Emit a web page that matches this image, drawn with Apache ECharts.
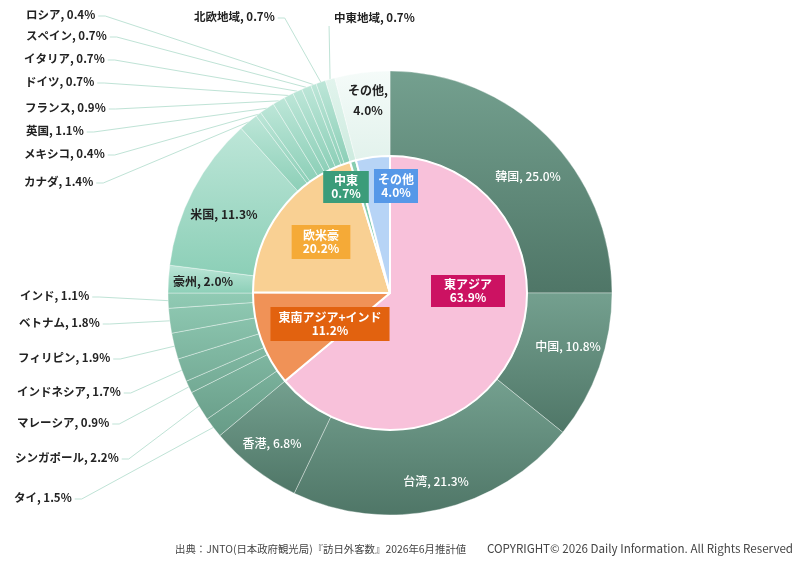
<!DOCTYPE html>
<html><head><meta charset="utf-8">
<script src="https://cdn.jsdelivr.net/npm/echarts@6/dist/echarts.min.js"></script>
<style>html,body{margin:0;padding:0;background:#fff}#c{width:800px;height:563px}</style>
</head><body><div id="c"></div>
<script>
// ---- data ----
const regionNames = ['東アジア', '東南アジア+インド', '欧米豪', '中東', 'その他'];
const regionValues = [63.9, 11.2, 20.2, 0.7, 4.0];

const countryNames = ['韓国', '中国', '台湾', '香港',
  'タイ', 'シンガポール', 'マレーシア', 'インドネシア', 'フィリピン', 'ベトナム', 'インド',
  '豪州', '米国', 'カナダ', 'メキシコ', '英国', 'フランス', 'ドイツ', 'イタリア', 'スペイン', 'ロシア', '北欧地域',
  '中東地域', 'その他'];
const countryValues = [25.0, 10.8, 21.3, 6.8,
  1.5, 2.2, 0.9, 1.7, 1.9, 1.8, 1.1,
  2.0, 11.3, 1.4, 0.4, 1.1, 0.9, 0.7, 0.7, 0.7, 0.4, 0.7,
  0.7, 4.0];
const countryGroup = [0, 0, 0, 0, 1, 1, 1, 1, 1, 1, 1, 2, 2, 2, 2, 2, 2, 2, 2, 2, 2, 2, 3, 4];

const sourceText = '出典：JNTO(日本政府観光局)『訪日外客数』2026年6月推計値';
const copyrightText = 'COPYRIGHT© 2026 Daily Information. All Rights Reserved';

// ---- layout / style ----
const CX = 390, CY = 293, R_IN = 137, R_OUT = 222;
const FONT = '"Noto Sans CJK JP", "Noto Sans", sans-serif';

const innerFill = ['#f8c1da', '#f09257', '#f9d093', '#86cdb0', '#b7d4f6'];
const innerBox = ['#cc1262', '#e2620f', '#f5aa37', '#3b9c7a', '#5698e8'];
const innerPad = [[3, 13], [4, 8], [4, 11], [3, 8], [4, 4]];
const innerLabelPos = [[468, 291], [330, 324], [321, 242], [346, 187], [396, 186]];

const groupFill = [
  { type: 'linear', x: 0, y: 0, x2: 0, y2: 1, colorStops: [{ offset: 0, color: '#74a08f' }, { offset: 1, color: '#4f7667' }] },
  { type: 'linear', x: 0, y: 280, x2: 0, y2: 470, global: true, colorStops: [{ offset: 0, color: '#94cfb8' }, { offset: 1, color: '#5d907c' }] },
  { type: 'linear', x: 0, y: 0, x2: 0, y2: 1, colorStops: [{ offset: 0, color: '#bde6d8' }, { offset: 1, color: '#8ccfb7' }] },
  { type: 'linear', x: 0, y: 0, x2: 0, y2: 1, colorStops: [{ offset: 0, color: '#e2f4ed' }, { offset: 1, color: '#cdebdf' }] },
  { type: 'linear', x: 0, y: 0, x2: 0, y2: 1, colorStops: [{ offset: 0, color: '#f5fbf9' }, { offset: 1, color: '#e2f2ec' }] }
];
const insideLabelColor = ['#ffffff', '#ffffff', '#222222', '#222222', '#222222'];
const insideLabelWeight = [500, 500, 'bold', 'bold', 'bold'];

// label anchors (text positions, not marks)
const outerInsidePos = {
  '韓国': [528, 176], '中国': [568, 346], '台湾': [436, 481], '香港': [272, 443],
  '豪州': [203, 281], '米国': [224, 214], 'その他': [368, 100]
};
const twoLineNames = { 'その他': true };
const outerLabelPos = {
  'タイ': [14, 498], 'シンガポール': [15, 458], 'マレーシア': [17, 423], 'インドネシア': [17, 392],
  'フィリピン': [18, 358], 'ベトナム': [19, 323], 'インド': [20, 296],
  'カナダ': [24, 182], 'メキシコ': [24, 154], '英国': [26, 131], 'フランス': [25, 108],
  'ドイツ': [25, 82], 'イタリア': [24, 59], 'スペイン': [26, 36], 'ロシア': [26, 15],
  '北欧地域': [194, 17], '中東地域': [334, 18]
};

const total = countryValues.reduce((a, b) => a + b, 0);
function edgePoint(i) {
  let cum = 0;
  for (let k = 0; k < i; k++) cum += countryValues[k];
  const a = (cum + countryValues[i] / 2) / total * Math.PI * 2;
  return [CX + R_OUT * Math.sin(a), CY - R_OUT * Math.cos(a)];
}

const outerData = countryNames.map((n, i) => {
  const g = countryGroup[i];
  const inside = n in outerInsidePos;
  return {
    name: n,
    value: countryValues[i],
    itemStyle: { color: groupFill[g] },
    label: inside
      ? { position: 'inside', color: insideLabelColor[g], fontWeight: insideLabelWeight[g], fontSize: 12, lineHeight: twoLineNames[n] ? 20 : 14 }
      : { position: 'outside', color: '#222', fontWeight: 'bold', fontSize: 11.5 },
    labelLine: { show: !inside }
  };
});

const innerData = regionNames.map((n, i) => ({
  name: n,
  value: regionValues[i],
  itemStyle: { color: innerFill[i] },
  label: { backgroundColor: innerBox[i], padding: innerPad[i] }
}));

const chart = echarts.init(document.getElementById('c'));
chart.setOption({
  animation: false,
  backgroundColor: '#ffffff',
  textStyle: { fontFamily: FONT },
  series: [
    {
      type: 'pie',
      name: 'country',
      center: [CX, CY],
      radius: [R_IN, R_OUT],
      startAngle: 90,
      clockwise: true,
      avoidLabelOverlap: false,
      itemStyle: { borderColor: 'rgba(255,255,255,0.45)', borderWidth: 0.8 },
      label: {
        show: true,
        fontFamily: FONT,
        formatter: p => p.name + (twoLineNames[p.name] ? ',\n' : ', ') + p.value.toFixed(1) + '%'
      },
      labelLine: { show: false, lineStyle: { color: '#bfe3d6', width: 1 } },
      emphasis: { disabled: true },
      labelLayout: function (p) {
        const n = countryNames[p.dataIndex];
        if (outerInsidePos[n]) {
          const q = outerInsidePos[n];
          return { x: q[0], y: q[1], align: 'center', verticalAlign: 'middle' };
        }
        const pos = outerLabelPos[n];
        if (!pos) return {};
        const e = edgePoint(p.dataIndex);
        if (n === '中東地域') {
          return { x: pos[0], y: pos[1], align: 'left', verticalAlign: 'middle',
            labelLinePoints: [e, [e[0] - 1, pos[1] + 8]] };
        }
        const right = pos[0] + p.labelRect.width;
        return { x: pos[0], y: pos[1], align: 'left', verticalAlign: 'middle',
          labelLinePoints: [e, [right + 10, pos[1] + 1], [right + 3, pos[1] + 1]] };
      },
      data: outerData
    },
    {
      type: 'pie',
      name: 'region',
      center: [CX, CY],
      radius: [0, R_IN],
      startAngle: 90,
      clockwise: true,
      avoidLabelOverlap: false,
      itemStyle: { borderColor: '#ffffff', borderWidth: 2 },
      label: {
        show: true,
        position: 'inside',
        color: '#ffffff',
        fontFamily: FONT,
        fontSize: 12,
        fontWeight: 'bold',
        lineHeight: 13,
        formatter: p => p.name + '\n' + p.value.toFixed(1) + '%'
      },
      labelLine: { show: false },
      emphasis: { disabled: true },
      labelLayout: function (p) {
        const q = innerLabelPos[p.dataIndex];
        return { x: q[0], y: q[1], align: 'center', verticalAlign: 'middle' };
      },
      data: innerData
    }
  ],
  graphic: [
    { type: 'text', left: 175, top: 544, style: { text: sourceText, fontSize: 10.4, fill: '#444', fontFamily: FONT } },
    { type: 'text', right: 7, top: 543, style: { text: copyrightText, fontSize: 11.6, fill: '#444', fontFamily: FONT } }
  ]
});
</script>
</body></html>
